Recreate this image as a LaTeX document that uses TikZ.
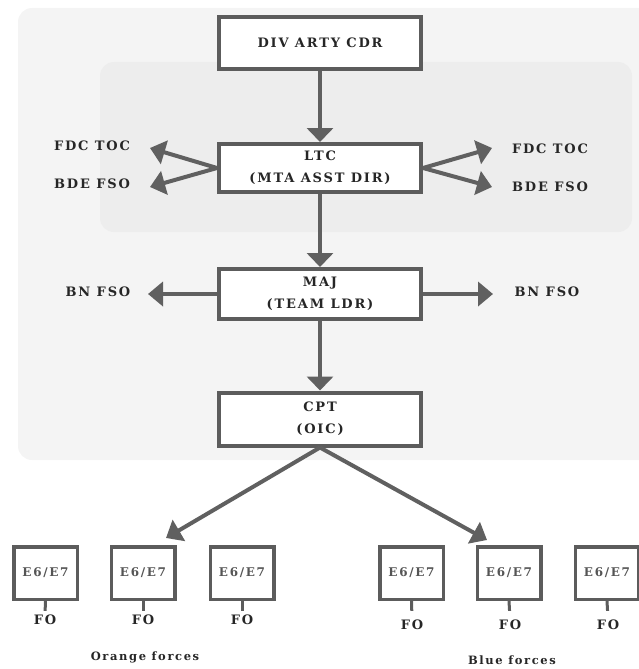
\documentclass[tikz,border=0pt]{standalone}
\usepackage{fontspec}
\newfontfamily\lblfont[LetterSpace=14]{DejaVu Serif}
\newfontfamily\capfont[LetterSpace=14]{DejaVu Serif}
\usetikzlibrary{arrows.meta}
\definecolor{boxgray}{HTML}{5C5C5C}
\definecolor{arrgray}{HTML}{606060}
\definecolor{txt}{HTML}{262626}
\definecolor{etxt}{HTML}{555555}
\definecolor{bgA}{HTML}{F4F4F4}
\definecolor{bgB}{HTML}{EDEDED}
\tikzset{
  box/.style={draw=boxgray, line width=4pt, fill=white, minimum width=202pt,
    align=center, text=txt, font=\lblfont\bfseries\fontsize{13}{22}\selectfont},
  sbox/.style={draw=boxgray, line width=3.5pt, fill=white, minimum width=63.5pt,
    minimum height=52.5pt, inner sep=1pt, text=etxt, font=\lblfont\bfseries\fontsize{12}{16}\selectfont},
  lbl/.style={text=txt, font=\lblfont\bfseries\fontsize{13}{16}\selectfont, inner sep=1pt},
  grp/.style={text=txt, font=\capfont\bfseries\fontsize{11.5}{14}\selectfont},
  conn/.style={draw=arrgray, line width=4pt, -{Triangle[width=26pt,length=14pt]}},
  sconn/.style={draw=arrgray, line width=4pt, -{Triangle[width=24pt,length=15pt]}},
  stem/.style={draw=boxgray, line width=3pt}
}
\begin{document}
\begin{tikzpicture}[x=1pt,y=-1pt]
\useasboundingbox (0,0) rectangle (639,669);
% faint page background
\fill[bgA, rounded corners=14pt] (18,8) rectangle (670,460);
\fill[bgB, rounded corners=14pt] (100,62) rectangle (632,232);

% main chain
\node[box, minimum height=52pt] (div) at (320,43) {DIV ARTY CDR};
\node[box, minimum height=48pt] (ltc) at (320,168) {LTC\\(MTA ASST DIR)};
\node[box, minimum height=50pt] (maj) at (320,294) {MAJ\\(TEAM LDR)};
\node[box, minimum height=53pt] (cpt) at (320,419) {CPT\\(OIC)};

\draw[conn] (div.south) -- (ltc.north);
\draw[conn] (ltc.south) -- (maj.north);
\draw[conn] (maj.south) -- (cpt.north);

% LTC side arrows
\coordinate (lf) at (150,148);
\coordinate (lb) at (150,187);
\coordinate (rf) at (492,148);
\coordinate (rb) at (492,187);
\draw[sconn] (ltc.west) -- (lf);
\draw[sconn] (ltc.west) -- (lb);
\draw[sconn] (ltc.east) -- (rf);
\draw[sconn] (ltc.east) -- (rb);
\node[lbl] (tfl) at (92,146) {FDC TOC};
\node[lbl] (tbl) at (92,184) {BDE FSO};
\node[lbl] (tfr) at (550,149) {FDC TOC};
\node[lbl] (tbr) at (550,187) {BDE FSO};

% MAJ side arrows
\coordinate (nl) at (148,294);
\coordinate (nr) at (493,294);
\draw[sconn] (maj.west) -- (nl);
\draw[sconn] (maj.east) -- (nr);
\node[lbl] (tnl) at (98,292) {BN FSO};
\node[lbl] (tnr) at (547,292) {BN FSO};

% CPT diagonal arrows
\coordinate (oa) at (166,538);
\coordinate (ba) at (487,540);
\draw[sconn] (cpt.south) -- (oa);
\draw[sconn] (cpt.south) -- (ba);

% E6/E7 boxes
\node[sbox] (e1) at (45.5,573) {E6/E7};
\node[sbox] (e2) at (143,573) {E6/E7};
\node[sbox] (e3) at (242,573) {E6/E7};
\node[sbox] (e4) at (411.5,573) {E6/E7};
\node[sbox] (e5) at (509,573) {E6/E7};
\node[sbox] (e6) at (607,573) {E6/E7};

\node[lbl] (f1) at (45,620) {FO};
\node[lbl] (f2) at (143,620) {FO};
\node[lbl] (f3) at (242,620) {FO};
\node[lbl] (f4) at (412,625) {FO};
\node[lbl] (f5) at (510,625) {FO};
\node[lbl] (f6) at (608,625) {FO};

\draw[stem, shorten >=3pt] (e1.south) -- (f1.north);
\draw[stem, shorten >=3pt] (e2.south) -- (f2.north);
\draw[stem, shorten >=3pt] (e3.south) -- (f3.north);
\draw[stem, shorten >=8pt] (e4.south) -- (f4.north);
\draw[stem, shorten >=8pt] (e5.south) -- (f5.north);
\draw[stem, shorten >=8pt] (e6.south) -- (f6.north);

\node[grp] (orange) at (145,657) {Orange forces};
\node[grp] (blue) at (512,660) {Blue forces};
\end{tikzpicture}
\end{document}
